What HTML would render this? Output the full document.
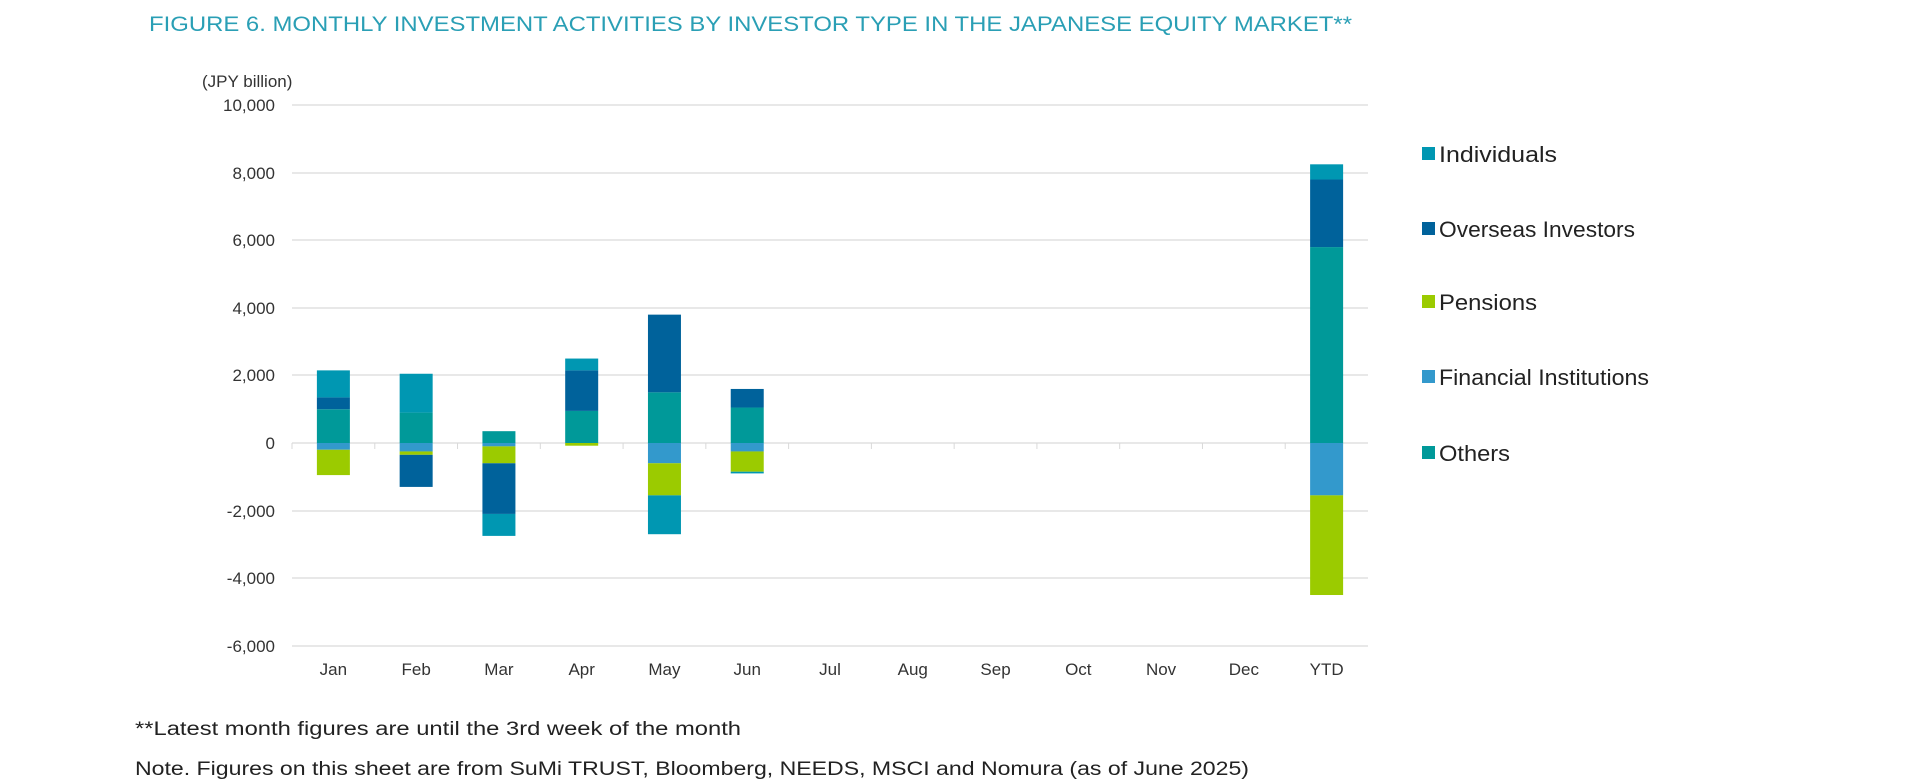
<!DOCTYPE html>
<html><head><meta charset="utf-8"><style>
html,body{margin:0;padding:0;background:#fff;}
svg{display:block;font-family:"Liberation Sans",sans-serif;}
</style></head><body>
<svg width="1920" height="782" viewBox="0 0 1920 782" xmlns="http://www.w3.org/2000/svg">
<text x="149" y="31" font-size="21" fill="#2a9fb5" textLength="1203" lengthAdjust="spacingAndGlyphs">FIGURE 6. MONTHLY INVESTMENT ACTIVITIES BY INVESTOR TYPE IN THE JAPANESE EQUITY MARKET**</text>
<text x="202" y="87" font-size="17" fill="#333">(JPY billion)</text>
<g stroke="#d9d9d9" stroke-width="1.3">
<line x1="292" x2="1368" y1="105" y2="105"/>
<line x1="292" x2="1368" y1="173" y2="173"/>
<line x1="292" x2="1368" y1="240" y2="240"/>
<line x1="292" x2="1368" y1="308" y2="308"/>
<line x1="292" x2="1368" y1="375" y2="375"/>
<line x1="292" x2="1368" y1="443" y2="443"/>
<line x1="292" x2="1368" y1="511" y2="511"/>
<line x1="292" x2="1368" y1="578" y2="578"/>
<line x1="292" x2="1368" y1="646" y2="646"/>
</g>
<g font-size="17" fill="#333" text-anchor="end">
<text x="275" y="111">10,000</text>
<text x="275" y="179">8,000</text>
<text x="275" y="246">6,000</text>
<text x="275" y="314">4,000</text>
<text x="275" y="381">2,000</text>
<text x="275" y="449">0</text>
<text x="275" y="517">-2,000</text>
<text x="275" y="584">-4,000</text>
<text x="275" y="652">-6,000</text>
</g>
<g id="bars"></g>
<g font-size="17" fill="#333" text-anchor="middle" id="xl"></g>
<g font-size="22" fill="#222">
<rect x="1422" y="147" width="13" height="13" fill="#0097b2"/><text x="1439" y="162" textLength="118" lengthAdjust="spacingAndGlyphs">Individuals</text>
<rect x="1422" y="222" width="13" height="13" fill="#00629b"/><text x="1439" y="237" textLength="196" lengthAdjust="spacingAndGlyphs">Overseas Investors</text>
<rect x="1422" y="295" width="13" height="13" fill="#9bcb00"/><text x="1439" y="310" textLength="98" lengthAdjust="spacingAndGlyphs">Pensions</text>
<rect x="1422" y="370" width="13" height="13" fill="#3399cc"/><text x="1439" y="385" textLength="210" lengthAdjust="spacingAndGlyphs">Financial Institutions</text>
<rect x="1422" y="446" width="13" height="13" fill="#009999"/><text x="1439" y="461" textLength="71" lengthAdjust="spacingAndGlyphs">Others</text>
</g>
<g font-size="19" fill="#222">
<text x="135" y="735" textLength="606" lengthAdjust="spacingAndGlyphs">**Latest month figures are until the 3rd week of the month</text>
<text x="135" y="775" textLength="1114" lengthAdjust="spacingAndGlyphs">Note. Figures on this sheet are from SuMi TRUST, Bloomberg, NEEDS, MSCI and Nomura (as of June 2025)</text>
</g>
</svg>
<script>
var C={I:"#0097b2",O:"#00629b",P:"#9bcb00",F:"#3399cc",T:"#009999"};
var data=[
[["T",0,1000],["O",1000,1350],["I",1350,2150],["F",0,-200],["P",-200,-950]],
[["T",0,900],["I",900,2050],["F",0,-250],["P",-250,-350],["O",-350,-1300]],
[["T",0,350],["F",0,-100],["P",-100,-600],["O",-600,-2100],["I",-2100,-2750]],
[["T",0,950],["O",950,2150],["I",2150,2500],["P",0,-80]],
[["T",0,1500],["O",1500,3800],["F",0,-600],["P",-600,-1550],["I",-1550,-2700]],
[["T",0,1050],["O",1050,1600],["F",0,-250],["P",-250,-850],["I",-850,-900]],
[],[],[],[],[],[],
[["T",0,5800],["O",5800,7800],["I",7800,8250],["F",0,-1550],["P",-1550,-4500]]];
var labs=["Jan","Feb","Mar","Apr","May","Jun","Jul","Aug","Sep","Oct","Nov","Dec","YTD"];
var ns="http://www.w3.org/2000/svg",g=document.getElementById("bars"),xl=document.getElementById("xl");
var W=(1368-292)/13;function Y(v){return 443-v*0.03378;}
for(var i=0;i<13;i++){var cx=292+W*(i+0.5);
 data[i].forEach(function(s){var r=document.createElementNS(ns,"rect");var a=Y(s[1]),b=Y(s[2]);
 r.setAttribute("x",cx-16.5);r.setAttribute("width",33);r.setAttribute("y",Math.min(a,b));r.setAttribute("height",Math.abs(a-b));r.setAttribute("fill",C[s[0]]);g.appendChild(r);});
 var t=document.createElementNS(ns,"text");t.setAttribute("x",cx);t.setAttribute("y",675);t.textContent=labs[i];xl.appendChild(t);
 var l=document.createElementNS(ns,"line");var tx=292+W*i;l.setAttribute("x1",tx);l.setAttribute("x2",tx);l.setAttribute("y1",443);l.setAttribute("y2",449);l.setAttribute("stroke","#d9d9d9");g.appendChild(l);}
</script>
</body></html>
